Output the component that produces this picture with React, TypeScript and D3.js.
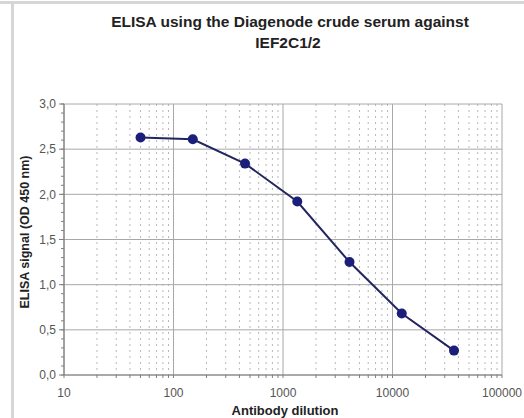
import React from 'react';
import * as d3 from 'd3';

// Antibody dilution series (3-fold) and ELISA OD 450 readings
const dilutions = [50, 150, 450, 1350, 4050, 12150, 36450];
const signals = [2.63, 2.61, 2.34, 1.92, 1.25, 0.68, 0.27];
const xTicks = [10, 100, 1000, 10000, 100000];
const yTicks = [0, 0.5, 1, 1.5, 2, 2.5, 3];

const W = 524;
const H = 418;
const margin = { top: 104, right: 22, bottom: 43, left: 64 };

export default function App() {
  const x = d3.scaleLog().domain([10, 100000]).range([margin.left, W - margin.right]);
  const y = d3.scaleLinear().domain([0, 3]).range([H - margin.bottom, margin.top]);

  // minor decade positions 2..9
  const minorX: number[] = [];
  for (let d = 10; d < 100000; d *= 10) {
    for (let k = 2; k <= 9; k++) minorX.push(d * k);
  }
  const minorY = d3.range(0, 3.001, 0.1);

  const line = d3.line<number>()
    .x((_, i) => x(dilutions[i]))
    .y(d => y(d));

  const font = '"Liberation Sans", Arial, sans-serif';
  const x0 = x.range()[0], x1 = x.range()[1];
  const y0 = y.range()[0], y1 = y.range()[1];

  return (
    <svg width={W} height={H} style={{ position: 'absolute', left: 0, top: 0, background: '#fff' }}
      fontFamily={font}>
      {/* frame */}
      <rect x={0} y={1} width={W} height={3} fill="#d6d6d6" />
      <rect x={11} y={1} width={3} height={H} fill="#d6d6d6" />

      {/* title */}
      <text x={290} y={27} textAnchor="middle" fontSize={15.5} fontWeight="bold" fill="#222">
        ELISA using the Diagenode crude serum against
      </text>
      <text x={288} y={48} textAnchor="middle" fontSize={15.5} fontWeight="bold" fill="#222">
        IEF2C1/2
      </text>

      {/* minor vertical grid */}
      {minorX.map(v => (
        <line key={'mx' + v} x1={x(v)} x2={x(v)} y1={y1} y2={y0}
          stroke="#b8b8b8" strokeWidth={1} strokeDasharray="2,4" />
      ))}
      {/* major grid */}
      {yTicks.map(v => (
        <line key={'gy' + v} x1={x0} x2={x1} y1={y(v)} y2={y(v)} stroke="#a8a8a8" strokeWidth={1} />
      ))}
      {xTicks.map(v => (
        <line key={'gx' + v} x1={x(v)} x2={x(v)} y1={y1} y2={y0} stroke="#a8a8a8" strokeWidth={1} />
      ))}

      {/* axes */}
      <line x1={x0} x2={x0} y1={y1} y2={y0} stroke="#808080" strokeWidth={1.2} />
      <line x1={x0} x2={x1} y1={y0} y2={y0} stroke="#808080" strokeWidth={1.2} />
      {minorY.map(v => (
        <line key={'ty' + v.toFixed(1)} x1={x0 - 3} x2={x0} y1={y(v)} y2={y(v)} stroke="#808080" />
      ))}
      {yTicks.map(v => (
        <line key={'tY' + v} x1={x0 - 5} x2={x0} y1={y(v)} y2={y(v)} stroke="#808080" />
      ))}
      {[...minorX, ...xTicks].map(v => (
        <line key={'tx' + v} x1={x(v)} x2={x(v)} y1={y0} y2={y0 + 3} stroke="#808080" />
      ))}

      {/* tick labels */}
      {yTicks.map(v => (
        <text key={'ly' + v} x={x0 - 8} y={y(v)} dy="0.35em" textAnchor="end" fontSize={12} fill="#555">
          {d3.format('.1f')(v).replace('.', ',')}
        </text>
      ))}
      {xTicks.map(v => (
        <text key={'lx' + v} x={x(v)} y={397} textAnchor="middle" fontSize={12} fill="#555">
          {String(v)}
        </text>
      ))}

      {/* axis labels */}
      <text transform={`translate(29,232) rotate(-90)`} textAnchor="middle" fontSize={12.5}
        fontWeight="bold" fill="#222">
        ELISA signal (OD 450 nm)
      </text>
      <text x={285} y={415} textAnchor="middle" fontSize={13} fontWeight="bold" fill="#222">
        Antibody dilution
      </text>

      {/* series */}
      <path d={line(signals) || ''} fill="none" stroke="#23265e" strokeWidth={2} />
      {signals.map((s, i) => (
        <circle key={'p' + i} cx={x(dilutions[i])} cy={y(s)} r={5} fill="#1c1f7a" />
      ))}
    </svg>
  );
}
